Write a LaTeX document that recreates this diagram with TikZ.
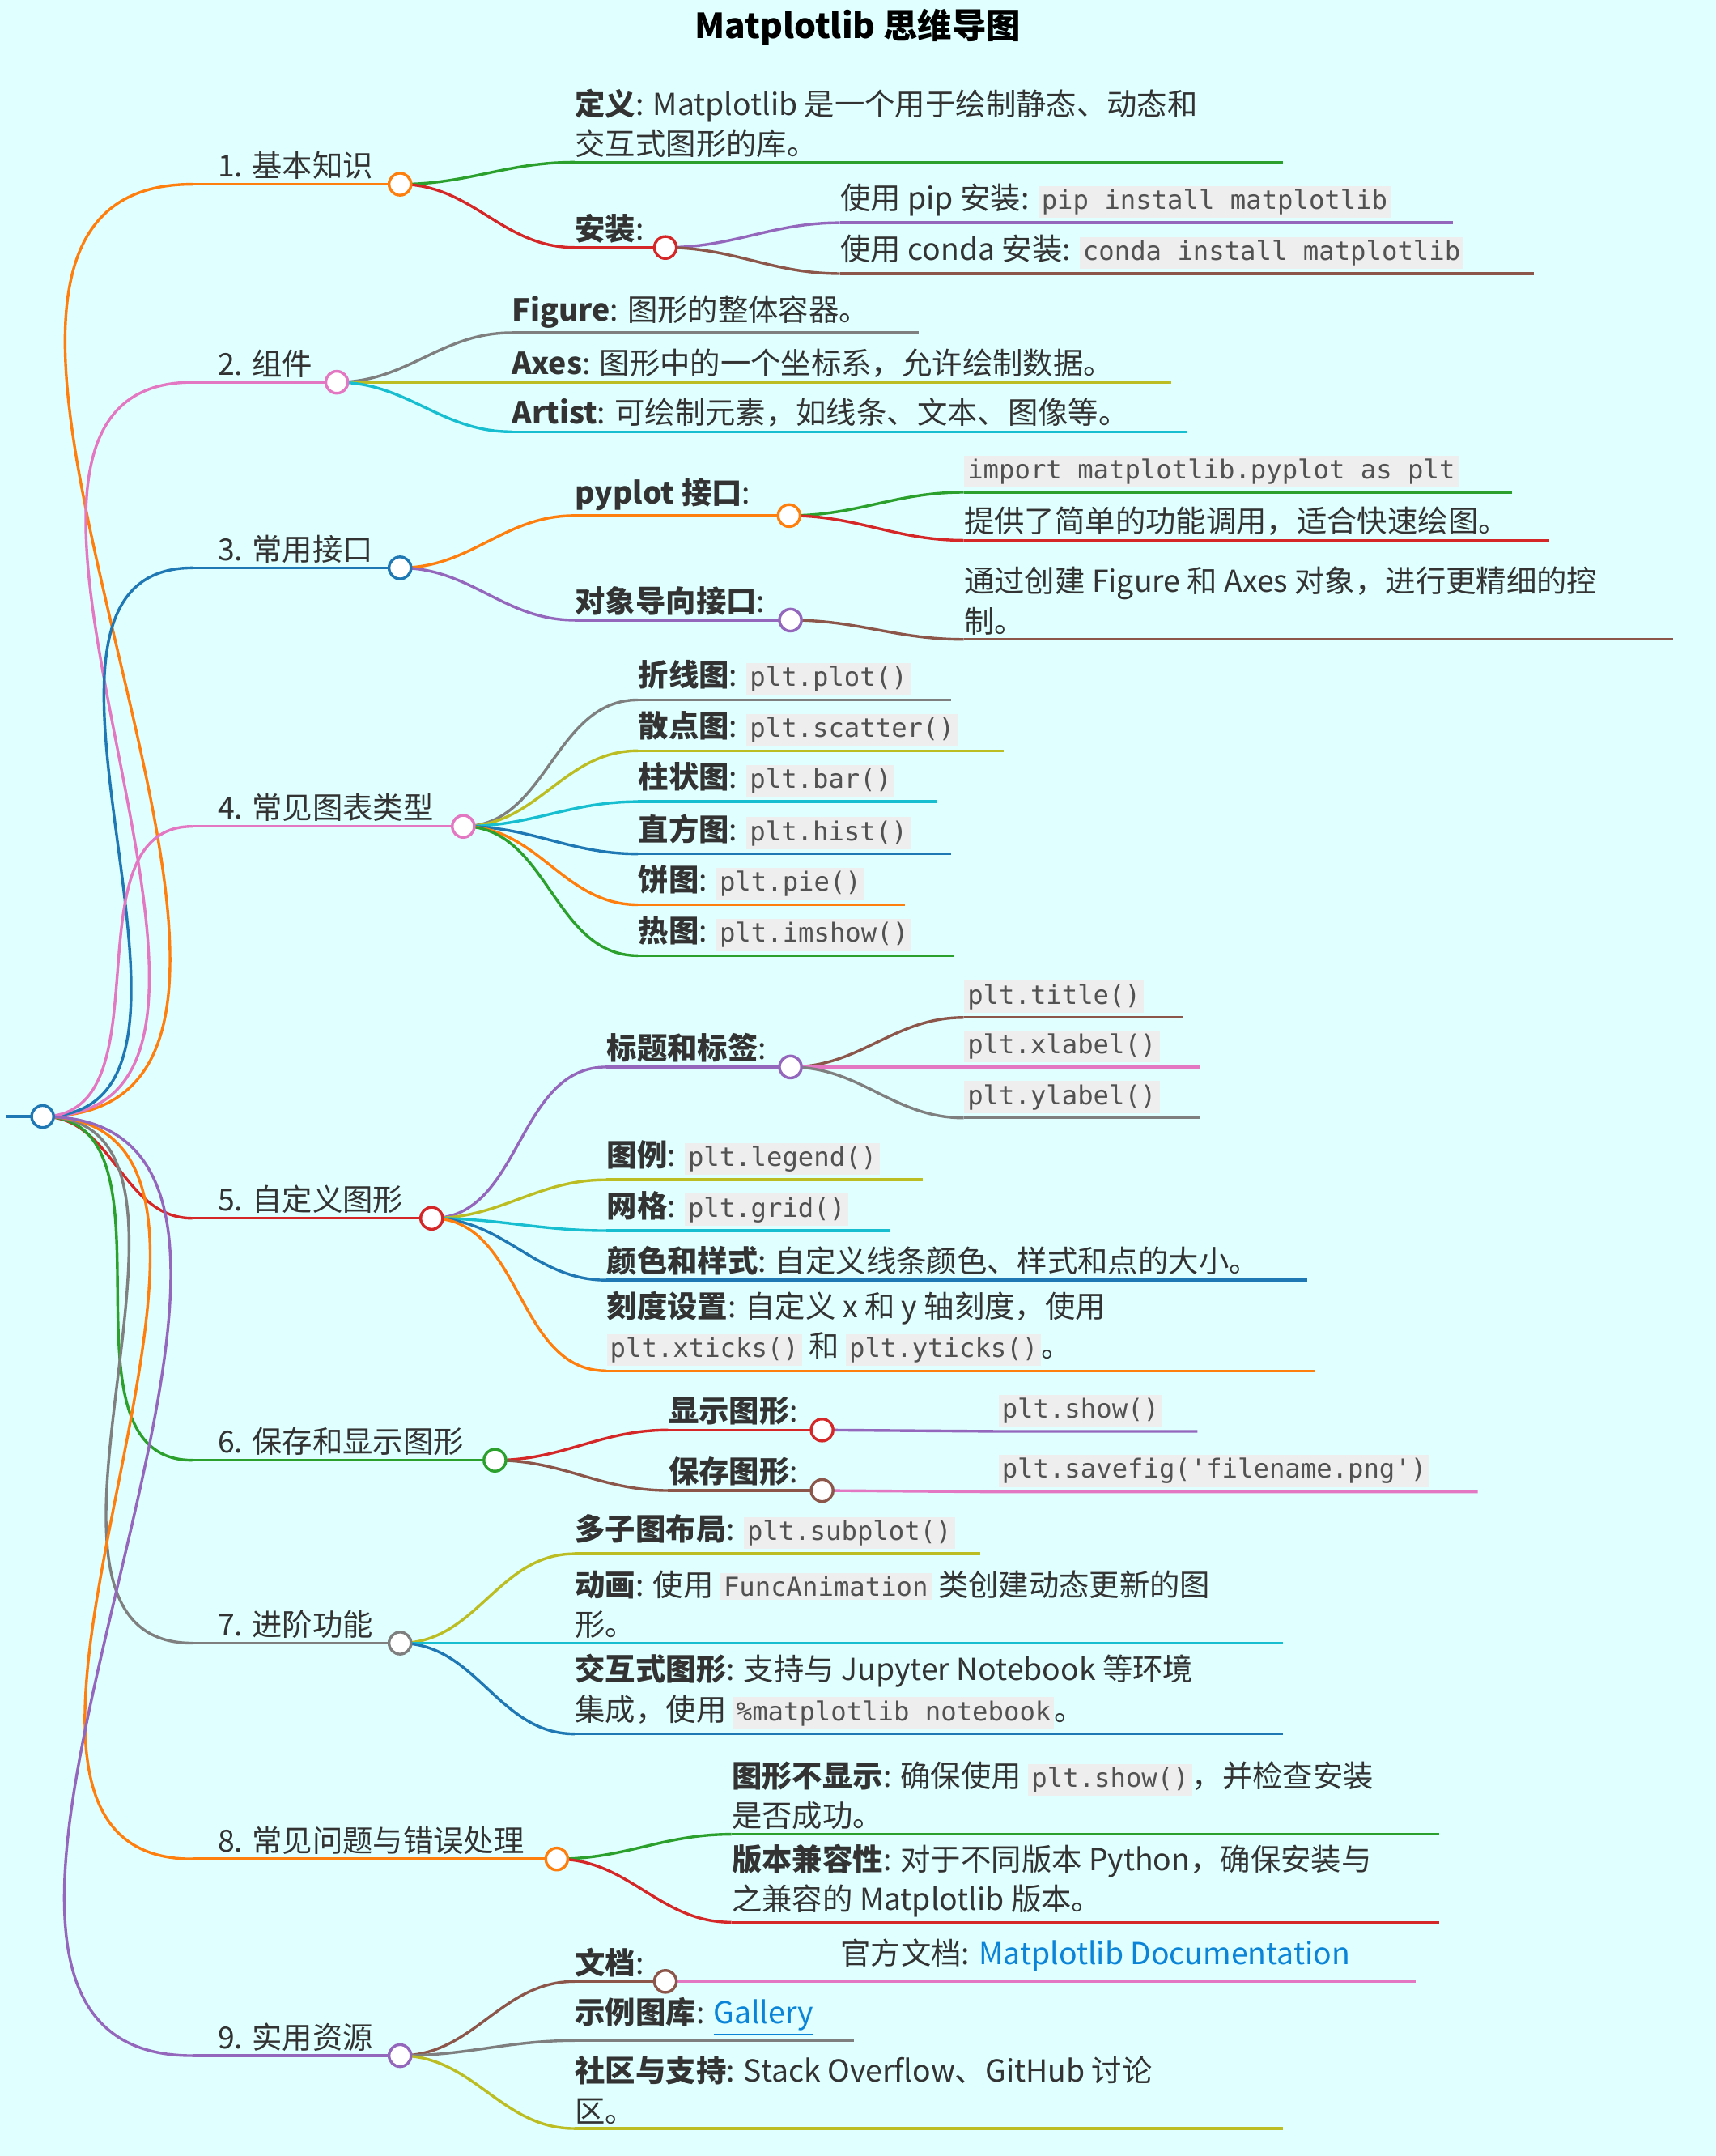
\documentclass[tikz,border=0pt]{standalone}
\usepackage{fontspec}
\setmainfont{Noto Sans CJK SC}
\setmonofont{DejaVu Sans Mono}
\usepackage{tikz}
\usetikzlibrary{positioning}
\definecolor{bgc}{HTML}{E0FFFF}
\definecolor{codebg}{HTML}{EEEEEE}
\definecolor{tblue}{HTML}{1F77B4}
\definecolor{torange}{HTML}{FF7F0E}
\definecolor{tgreen}{HTML}{2CA02C}
\definecolor{tred}{HTML}{D62728}
\definecolor{tpurple}{HTML}{9467BD}
\definecolor{tbrown}{HTML}{8C564B}
\definecolor{tpink}{HTML}{E377C2}
\definecolor{tgray}{HTML}{7F7F7F}
\definecolor{tolive}{HTML}{BCBD22}
\definecolor{tcyan}{HTML}{17BECF}
\definecolor{linkc}{HTML}{0B84D8}
\definecolor{txtc}{HTML}{333333}
\newcommand\code[1]{{\setlength{\fboxsep}{1.2pt}\colorbox{codebg}{\fontsize{9.5}{11}\ttfamily\color{txtc!85}#1}}}
\newcommand\lnk[1]{{\color{linkc}\underline{#1}}}

\begin{document}
\begin{tikzpicture}[
        x=0.5pt, y=-0.5pt,
        wire/.style={line width=1pt, draw=#1},
        bend/.style={line width=1pt, draw=#1, out=0, in=180},
        dot/.style={circle, draw=#1, fill=white, line width=1pt, minimum size=8pt, inner sep=0pt},
        txt/.style={anchor=south west, inner xsep=0pt, inner ysep=1.5pt, align=left,
          text=txtc, font=\fontsize{11}{14.5}\selectfont},
        topic/.style={txt, xshift=9pt}
    ]
    \fill[bgc] (0,0) rectangle (1248,1568);
    \useasboundingbox (0,0) rectangle (1248,1568);

    \node[font=\bfseries\fontsize{12.5}{15}\selectfont, text=black] (title) at (624,20) {Matplotlib 思维导图};

    % Root and first level
    \coordinate (root) at (31,812);
    \coordinate (rootL) at (5,812);
    \draw[wire=tblue] (rootL) -- (root);
    \foreach \n/\y/\xe/\c/\t in {
        b1/134/291/torange/1. 基本知识,
        b2/278/245/tpink/2. 组件,
        b3/413/291/tblue/3. 常用接口,
        b4/601/337/tpink/4. 常见图表类型,
        b5/886/314/tred/5. 自定义图形,
        b6/1062/360/tgreen/6. 保存和显示图形,
        b7/1195/291/tgray/7. 进阶功能,
        b8/1352/405/torange/8. 常见问题与错误处理,
        b9/1495/291/tpurple/9. 实用资源}{
      \coordinate (\n s) at (140,\y);
      \coordinate (\n) at (\xe,\y);
      \draw[bend=\c] (root) to (\n s);
      \draw[wire=\c] (\n s) -- (\n);
      \node[topic] (\n t) at (\n s) {\t};
    }

    % 1. 基本知识
    \coordinate (d1) at (418,118); \coordinate (d1e) at (933,118);
    \draw[bend=tgreen] (b1) to (d1); \draw[wire=tgreen] (d1) -- (d1e);
    \node[txt] (d1t) at (d1) {\textbf{定义}: Matplotlib 是一个用于绘制静态、动态和\\交互式图形的库。};
    \coordinate (i1) at (418,180); \coordinate (i1c) at (484,180);
    \draw[bend=tred] (b1) to (i1); \draw[wire=tred] (i1) -- (i1c);
    \node[txt] (i1t) at (i1) {\textbf{安装}:};
    \coordinate (p1) at (611,162); \coordinate (p1e) at (1057,162);
    \draw[bend=tpurple] (i1c) to (p1); \draw[wire=tpurple] (p1) -- (p1e);
    \node[txt] (p1t) at (p1) {使用 pip 安装: \code{pip install matplotlib}};
    \coordinate (p2) at (611,199); \coordinate (p2e) at (1116,199);
    \draw[bend=tbrown] (i1c) to (p2); \draw[wire=tbrown] (p2) -- (p2e);
    \node[txt] (p2t) at (p2) {使用 conda 安装: \code{conda install matplotlib}};

    % 2. 组件
    \foreach \n/\y/\xe/\c/\t in {
        f2/242/668/tgray/{\textbf{Figure}: 图形的整体容器。},
        f3/278/852/tolive/{\textbf{Axes}: 图形中的一个坐标系，允许绘制数据。},
        f4/314/864/tcyan/{\textbf{Artist}: 可绘制元素，如线条、文本、图像等。}}{
      \coordinate (\n) at (372,\y); \coordinate (\n e) at (\xe,\y);
      \draw[bend=\c] (b2) to (\n); \draw[wire=\c] (\n) -- (\n e);
      \node[txt] (\n t) at (\n) {\t};
    }

    % 3. 常用接口
    \coordinate (y1) at (418,375); \coordinate (y1c) at (574,375);
    \draw[bend=torange] (b3) to (y1); \draw[wire=torange] (y1) -- (y1c);
    \node[txt] (y1t) at (y1) {\textbf{pyplot 接口}:};
    \coordinate (y2) at (701,358); \coordinate (y2e) at (1100,358);
    \draw[bend=tgreen] (y1c) to (y2); \draw[wire=tgreen] (y2) -- (y2e);
    \node[txt] (y2t) at (y2) {\code{import matplotlib.pyplot as plt}};
    \coordinate (y3) at (701,393); \coordinate (y3e) at (1127,393);
    \draw[bend=tred] (y1c) to (y3); \draw[wire=tred] (y3) -- (y3e);
    \node[txt] (y3t) at (y3) {提供了简单的功能调用，适合快速绘图。};
    \coordinate (o1) at (418,451); \coordinate (o1c) at (575,451);
    \draw[bend=tpurple] (b3) to (o1); \draw[wire=tpurple] (o1) -- (o1c);
    \node[txt] (o1t) at (o1) {\textbf{对象导向接口}:};
    \coordinate (o2) at (701,465); \coordinate (o2e) at (1217,465);
    \draw[bend=tbrown] (o1c) to (o2); \draw[wire=tbrown] (o2) -- (o2e);
    \node[txt] (o2t) at (o2) {通过创建 Figure 和 Axes 对象，进行更精细的控\\制。};

    % 4. 常见图表类型
    \foreach \n/\y/\xe/\c/\t in {
        g1/509/692/tgray/{\textbf{折线图}: \code{plt.plot()}},
        g2/546/730/tolive/{\textbf{散点图}: \code{plt.scatter()}},
        g3/583/681/tcyan/{\textbf{柱状图}: \code{plt.bar()}},
        g4/621/692/tblue/{\textbf{直方图}: \code{plt.hist()}},
        g5/658/658/torange/{\textbf{饼图}: \code{plt.pie()}},
        g6/695/694/tgreen/{\textbf{热图}: \code{plt.imshow()}}}{
      \coordinate (\n) at (464,\y); \coordinate (\n e) at (\xe,\y);
      \draw[bend=\c] (b4) to (\n); \draw[wire=\c] (\n) -- (\n e);
      \node[txt] (\n t) at (\n) {\t};
    }

    % 5. 自定义图形
    \coordinate (h1) at (441,776); \coordinate (h1c) at (575,776);
    \draw[bend=tpurple] (b5) to (h1); \draw[wire=tpurple] (h1) -- (h1c);
    \node[txt] (h1t) at (h1) {\textbf{标题和标签}:};
    \foreach \n/\y/\xe/\c/\t in {
        l1/740/860/tbrown/plt.title(),
        l2/776/873/tpink/plt.xlabel(),
        l3/813/873/tgray/plt.ylabel()}{
      \coordinate (\n) at (701,\y); \coordinate (\n e) at (\xe,\y);
      \draw[bend=\c] (h1c) to (\n); \draw[wire=\c] (\n) -- (\n e);
      \node[txt] (\n t) at (\n) {\code{\t}};
    }
    \foreach \n/\y/\xe/\c/\t in {
        k1/858/671/tolive/{\textbf{图例}: \code{plt.legend()}},
        k2/895/647/tcyan/{\textbf{网格}: \code{plt.grid()}},
        k3/931/951/tblue/{\textbf{颜色和样式}: 自定义线条颜色、样式和点的大小。},
        k4/997/956/torange/{\textbf{刻度设置}: 自定义 x 和 y 轴刻度，使用\\\code{plt.xticks()} 和 \code{plt.yticks()}。}}{
      \coordinate (\n) at (441,\y); \coordinate (\n e) at (\xe,\y);
      \draw[bend=\c] (b5) to (\n); \draw[wire=\c] (\n) -- (\n e);
      \node[txt] (\n t) at (\n) {\t};
    }

    % 6. 保存和显示图形
    \coordinate (s1) at (486,1040); \coordinate (s1c) at (598,1040);
    \draw[bend=tred] (b6) to (s1); \draw[wire=tred] (s1) -- (s1c);
    \node[txt] (s1t) at (s1) {\textbf{显示图形}:};
    \coordinate (s2) at (726,1041); \coordinate (s2e) at (871,1041);
    \draw[wire=tpurple] (s1c) -- (s2) -- (s2e);
    \node[txt] (s2t) at (s2) {\code{plt.show()}};
    \coordinate (v1) at (486,1084); \coordinate (v1c) at (598,1084);
    \draw[bend=tbrown] (b6) to (v1); \draw[wire=tbrown] (v1) -- (v1c);
    \node[txt] (v1t) at (v1) {\textbf{保存图形}:};
    \coordinate (v2) at (726,1085); \coordinate (v2e) at (1075,1085);
    \draw[wire=tpink] (v1c) -- (v2) -- (v2e);
    \node[txt] (v2t) at (v2) {\code{plt.savefig(\textquotesingle filename.png\textquotesingle)}};

    % 7. 进阶功能
    \foreach \n/\y/\xe/\c/\t in {
        a1/1130/713/tolive/{\textbf{多子图布局}: \code{plt.subplot()}},
        a2/1195/933/tcyan/{\textbf{动画}: 使用 \code{FuncAnimation} 类创建动态更新的图\\形。},
        a3/1261/933/tblue/{\textbf{交互式图形}: 支持与 Jupyter Notebook 等环境\\集成，使用 \code{\%matplotlib notebook}。}}{
      \coordinate (\n) at (418,\y); \coordinate (\n e) at (\xe,\y);
      \draw[bend=\c] (b7) to (\n); \draw[wire=\c] (\n) -- (\n e);
      \node[txt] (\n t) at (\n) {\t};
    }

    % 8. 常见问题与错误处理
    \foreach \n/\y/\c/\t in {
        q1/1334/tgreen/{\textbf{图形不显示}: 确保使用 \code{plt.show()}，并检查安装\\是否成功。},
        q2/1398/tred/{\textbf{版本兼容性}: 对于不同版本 Python，确保安装与\\之兼容的 Matplotlib 版本。}}{
      \coordinate (\n) at (532,\y); \coordinate (\n e) at (1047,\y);
      \draw[bend=\c] (b8) to (\n); \draw[wire=\c] (\n) -- (\n e);
      \node[txt] (\n t) at (\n) {\t};
    }

    % 9. 实用资源
    \coordinate (r1) at (418,1441); \coordinate (r1c) at (484,1441);
    \draw[bend=tbrown] (b9) to (r1); \draw[wire=tbrown] (r1) -- (r1c);
    \node[txt] (r1t) at (r1) {\textbf{文档}:};
    \coordinate (r2) at (611,1441); \coordinate (r2e) at (1030,1441);
    \draw[wire=tpink] (r1c) -- (r2) -- (r2e);
    \node[txt] (r2t) at (r2) {官方文档: \lnk{Matplotlib Documentation}};
    \coordinate (r3) at (418,1484); \coordinate (r3e) at (621,1484);
    \draw[bend=tgray] (b9) to (r3); \draw[wire=tgray] (r3) -- (r3e);
    \node[txt] (r3t) at (r3) {\textbf{示例图库}: \lnk{Gallery}};
    \coordinate (r4) at (418,1548); \coordinate (r4e) at (933,1548);
    \draw[bend=tolive] (b9) to (r4); \draw[wire=tolive] (r4) -- (r4e);
    \node[txt] (r4t) at (r4) {\textbf{社区与支持}: Stack Overflow、GitHub 讨论\\区。};

    % Circles on top
    \foreach \p/\c in {root/tblue, b1/torange, b2/tpink, b3/tblue, b4/tpink, b5/tred,
        b6/tgreen, b7/tgray, b8/torange, b9/tpurple, i1c/tred, y1c/torange,
        o1c/tpurple, h1c/tpurple, s1c/tred, v1c/tbrown, r1c/tbrown}
      \node[dot=\c] at (\p) {};
\end{tikzpicture}
\end{document}
